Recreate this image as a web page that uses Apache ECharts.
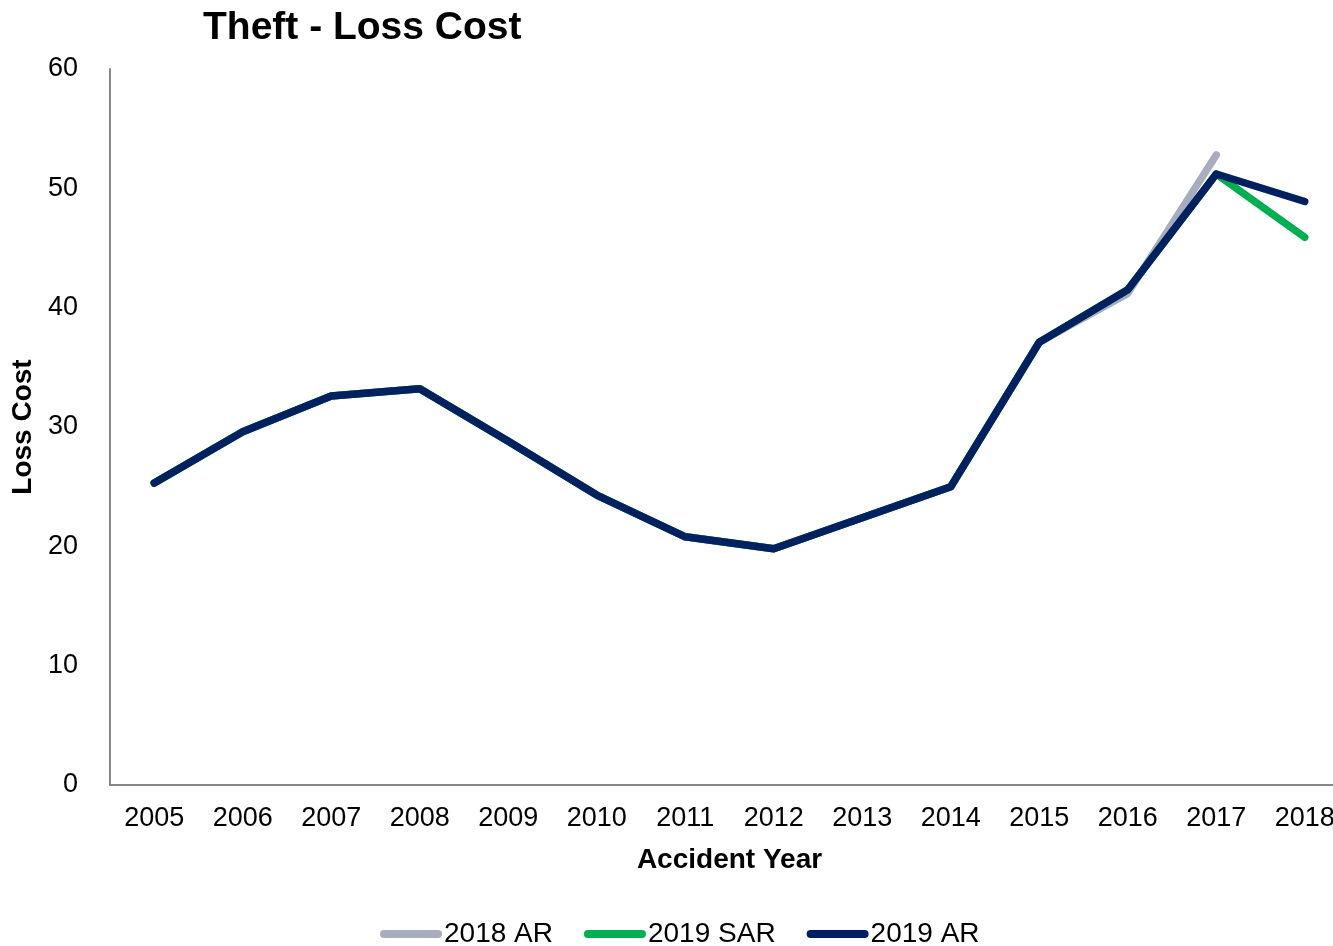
<!DOCTYPE html>
<html>
<head>
<meta charset="utf-8">
<style>
  html, body { margin: 0; padding: 0; background: #ffffff; overflow: hidden; }
  /* the plot runs a little past the right edge of the window, so the last label is clipped */
  #chart { width: 1349px; height: 946px; }
</style>
<script src="https://cdn.jsdelivr.net/npm/echarts@6/dist/echarts.min.js"></script>
</head>
<body>
<div id="chart"></div>
<script>
// Accident years on the x axis
const years = ['2005', '2006', '2007', '2008', '2009', '2010', '2011', '2012', '2013', '2014', '2015', '2016', '2017', '2018'];

// Loss cost by review
const ar2018  = [25.3, 29.6, 32.6, 33.2, 28.8, 24.3, 20.8, 19.8, 22.4, 25.0, 37.1, 41.2, 52.8, null];
const sar2019 = [25.3, 29.6, 32.6, 33.2, 28.8, 24.3, 20.8, 19.8, 22.4, 25.0, 37.1, 41.5, 51.2, 45.9];
const ar2019  = [25.3, 29.6, 32.6, 33.2, 28.8, 24.3, 20.8, 19.8, 22.4, 25.0, 37.1, 41.5, 51.2, 48.9];

const seriesNames = ['2018 AR', '2019 SAR', '2019 AR'];
const seriesColors = ['#a9abbe', '#00b050', '#002060'];

const FONT = '"Liberation Sans", Arial, sans-serif';
// rounded bar used as the legend key
const pill = 'path://M4,0 L58,0 A4,4 0 0 1 58,8 L4,8 A4,4 0 0 1 4,0 Z';

const chart = echarts.init(document.getElementById('chart'), null, { renderer: 'canvas' });

function lineSeries(name, data, color) {
  return {
    name: name,
    type: 'line',
    data: data,
    symbol: 'none',
    connectNulls: false,
    lineStyle: { color: color, width: 7.5, cap: 'round', join: 'round' },
    itemStyle: { color: color },
    emphasis: { disabled: true }
  };
}

chart.setOption({
  animation: false,
  backgroundColor: '#ffffff',
  textStyle: { fontFamily: FONT },
  title: {
    text: 'Theft - Loss Cost',
    left: 198,
    top: 4,
    textStyle: { fontFamily: FONT, fontSize: 39, fontWeight: 'bold', color: '#000000' }
  },
  legend: {
    data: seriesNames.map((n, i) => ({ name: n, icon: pill, itemStyle: { color: seriesColors[i] } })),
    left: 380,
    top: 920,
    padding: 0,
    itemWidth: 62,
    itemHeight: 8,
    itemGap: 31,
    textStyle: { fontFamily: FONT, fontSize: 28, color: '#000000', padding: [0, 0, 0, -3] }
  },
  grid: { left: 110, top: 69, right: 0, bottom: 161, containLabel: false },
  xAxis: {
    type: 'category',
    data: years,
    boundaryGap: true,
    name: 'Accident Year',
    nameLocation: 'middle',
    nameGap: 61,
    nameTextStyle: { fontFamily: FONT, fontSize: 28, fontWeight: 'bold', color: '#000000' },
    axisLine: { lineStyle: { color: '#868686', width: 2 } },
    axisTick: { show: false },
    axisLabel: { fontFamily: FONT, fontSize: 27, color: '#000000', margin: 20 },
    splitLine: { show: false }
  },
  yAxis: {
    type: 'value',
    min: 0,
    max: 60,
    interval: 10,
    name: 'Loss Cost',
    nameLocation: 'middle',
    nameGap: 71,
    nameTextStyle: { fontFamily: FONT, fontSize: 28, fontWeight: 'bold', color: '#000000' },
    axisLine: { show: true, lineStyle: { color: '#868686', width: 2 } },
    axisTick: { show: false },
    axisLabel: { fontFamily: FONT, fontSize: 27, color: '#000000', margin: 32 },
    splitLine: { show: false }
  },
  series: [
    lineSeries(seriesNames[0], ar2018, seriesColors[0]),
    lineSeries(seriesNames[1], sar2019, seriesColors[1]),
    lineSeries(seriesNames[2], ar2019, seriesColors[2])
  ]
});
</script>
</body>
</html>
